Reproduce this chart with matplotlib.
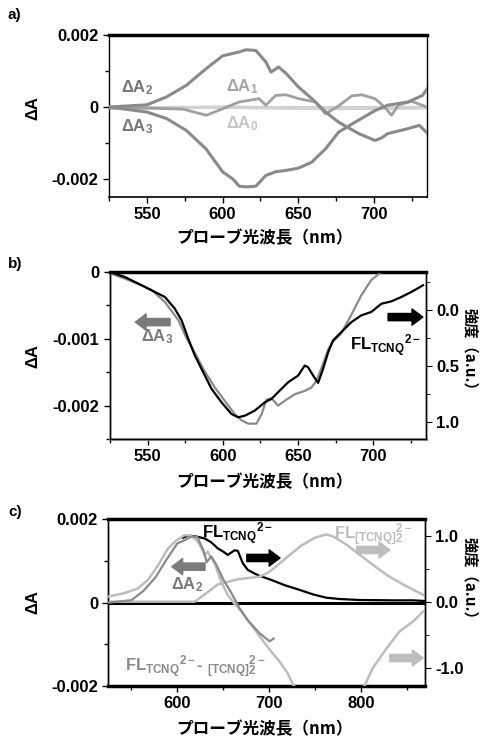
import numpy as np
import matplotlib
matplotlib.use("Agg")
import matplotlib.pyplot as plt
from matplotlib.ticker import MultipleLocator, FormatStrFormatter

plt.rcParams['font.family'] = ['Liberation Sans', 'Noto Sans CJK JP']
plt.rcParams['font.weight'] = 'bold'
plt.rcParams['mathtext.fontset'] = 'custom'
plt.rcParams['mathtext.rm'] = 'Liberation Sans:bold'
plt.rcParams['mathtext.it'] = 'Liberation Sans:bold'
plt.rcParams['mathtext.bf'] = 'Liberation Sans:bold'
plt.rcParams['mathtext.default'] = 'rm'
plt.rcParams['axes.linewidth'] = 1.0

# ---- panel a data ----
wl_a2 = [525, 550, 563, 576, 589, 600, 611, 615.5, 622, 628.6, 632, 637, 642, 650, 659, 668,
         676.6, 690, 700.7, 705, 709, 722.5, 730, 735]
delta_a2 = [0, 0.00006, 0.00028, 0.0006, 0.00106, 0.00142, 0.00153, 0.00159, 0.00157, 0.00125,
            0.00097, 0.00111, 0.00093, 0.00056, 0.00023, -0.00014, -0.00042, -0.00074, -0.00093,
            -0.00086, -0.00074, -0.0006, -0.00051, -0.00072]
wl_a3 = [525, 550, 563, 576, 589, 600, 606.8, 611, 615.5, 622, 628.6, 635, 642, 650, 659, 668,
         676.6, 687.5, 700.7, 709, 722.5, 732, 735]
delta_a3_a = [0, -0.00014, -0.00032, -0.00065, -0.00116, -0.0018, -0.002, -0.0022, -0.00222,
              -0.0022, -0.0019, -0.0018, -0.00176, -0.0017, -0.00153, -0.00116, -0.0007, -0.00042,
              -0.0001, 0.00005, 0.00014, 0.00032, 0.0005]
wl_a1 = [525, 550, 574, 589.3, 600, 611, 624, 628.6, 635, 641.7, 650.4, 661.4, 668, 676.6, 685.4,
         692, 700.7, 707, 711.6, 716, 724.7, 735]
delta_a1 = [-0.00003, -0.00003, -0.00006, -0.00023, -0.00005, 0.00014, 0.00023, 0.00005, 0.00032,
            0.00034, 0.00023, 0.00014, -0.00019, 0.00003, 0.00031, 0.00034, 0.00023, 0.0,
            -0.00023, 0.00005, 0.00016, 0.0]
wl_a0 = [525, 560, 600, 640, 680, 720, 735]
delta_a0 = [-0.00003, -0.00002, 0.0, -0.00003, -0.00004, -0.00003, -0.00002]

# ---- panel b data ----
wl_b3 = [525, 535, 546, 552.7, 561.5, 570.4, 575.9, 581.4, 588, 594.7, 601.3, 608, 612.4, 616.8,
         622.3, 625.7, 629, 632.3, 636.7, 641, 647.8, 654.4, 658.8, 662.2, 665.5, 670, 673.2,
         678.7, 685.4, 692, 698.6, 705.3, 712]
delta_a3_b = [-0.00002, -0.0001, -0.0002, -0.00027, -0.00045, -0.00072, -0.00099, -0.00121,
              -0.00149, -0.00173, -0.00193, -0.00213, -0.00222, -0.00227, -0.00227, -0.00213,
              -0.00191, -0.00189, -0.002, -0.00193, -0.00183, -0.00178, -0.00173, -0.00163,
              -0.00144, -0.00116, -0.00104, -0.00092, -0.00064, -0.00035, -0.00012, 0.0, 0.0002]
wl_fl_b = [525, 535, 546, 554.9, 561.5, 568.1, 572.6, 577, 581.4, 585.8, 592.5, 599.1, 605.7,
           610.2, 614.6, 621.2, 627.9, 632.3, 637.8, 643.4, 650, 654.4, 656.6, 660, 663.3, 666.6,
           670, 673.2, 678.7, 685.4, 692, 698.6, 705.3, 711.9, 718.6, 725.2, 733]
fl_tcnq_b = [-0.335, -0.29, -0.217, -0.157, -0.113, -0.009, 0.095, 0.258, 0.407, 0.525, 0.703,
             0.822, 0.926, 0.955, 0.941, 0.896, 0.822, 0.792, 0.718, 0.644, 0.585, 0.496, 0.51,
             0.585, 0.65, 0.525, 0.377, 0.273, 0.199, 0.11, 0.05, 0.02, -0.053, -0.074, -0.113,
             -0.157, -0.217]

# ---- panel c data ----
wl_fl_c = [606, 612, 620, 629.8, 637, 644, 650, 655, 662.5, 666, 671.5,
           677, 688, 702.5, 717, 733, 748, 762.5, 777, 799, 835, 857, 870]
fl_tcnq_c = [0.97, 1.0, 0.99, 0.96, 0.9, 0.81, 0.76, 0.71, 0.78,
             0.77, 0.58, 0.48, 0.40, 0.33, 0.25, 0.18, 0.11, 0.06, 0.04, 0.025, 0.02, 0.02, 0.01]
wl_dimer = [525, 600, 619, 629.8, 644, 666, 690, 700, 710, 720, 735, 750, 762, 770, 785, 800, 815,
            830, 845, 860, 870]
fl_dimer = [0, 0, 0, 0.11, 0.26, 0.34, 0.38, 0.45, 0.56, 0.68, 0.85, 0.97, 1.02, 0.99, 0.86, 0.70,
            0.54, 0.39, 0.27, 0.16, 0.09]
wl_diff = [524, 542.5, 557, 568, 579, 590, 599, 608, 615, 622.5, 630, 633, 640.7, 648, 655, 660.6,
           670, 680.7, 691.6, 702.5, 711, 720, 727, 740, 765, 790, 804, 813, 828, 842.4, 857, 868]
fl_diff = [0.076, 0.13, 0.2, 0.33, 0.55, 0.81, 0.93, 1.01, 1.0, 0.91, 0.71, 0.76, 0.58, 0.30, 0.10,
           0.0, -0.15, -0.35, -0.56, -0.76, -0.9, -1.08, -1.28, -1.6, -1.8, -1.6, -1.28, -1.01,
           -0.71, -0.45, -0.30, -0.15]

left_ticks_ac = [0.002, 0, -0.002]
left_labels_ac = ['0.002', '0', '-0.002']
left_ticks_b = [0, -0.001, -0.002]
left_labels_b = ['0', '-0.001', '-0.002']

xlabel = 'プローブ光波長（nm）'
rlabel = '強度（a.u.）'

MID = '#8a8a8a'
LIGHT = '#bdbdbd'
PALE = '#d2d2d2'
TS = 12

fig = plt.figure(figsize=(4.85, 7.37), dpi=100)


def px_axes(l, r, t, b):
    W, H = 485.0, 737.0
    return fig.add_axes([l / W, 1 - b / H, (r - l) / W, (b - t) / H])


def style(ax, lw_top=2.5, lw_bot=1.2):
    ax.spines['top'].set_linewidth(lw_top)
    ax.spines['bottom'].set_linewidth(lw_bot)
    ax.tick_params(axis='both', which='major', labelsize=TS, length=4, width=1, direction='out')
    ax.tick_params(axis='both', which='minor', length=3, width=1, direction='out')
    ax.tick_params(axis='x', top=False)
    for lab in ax.get_xticklabels() + ax.get_yticklabels():
        lab.set_fontweight('bold')


def arrow(ax, x0, x1, y, color):
    ax.annotate('', xy=(x1, y), xytext=(x0, y), xycoords='axes fraction',
                arrowprops=dict(arrowstyle='simple,head_length=0.6,head_width=0.9,tail_width=0.4',
                                color=color, mutation_scale=13, shrinkA=0, shrinkB=0))


# ---------------- a ----------------
ax = px_axes(109, 427, 35, 197)
ax.axhline(0, color='black', lw=1.0, zorder=1)
ax.plot(wl_a0, delta_a0, color=PALE, lw=2.5, zorder=2)
ax.plot(wl_a1, delta_a1, color='#a0a0a0', lw=2.0, zorder=3)
ax.plot(wl_a2, delta_a2, color=MID, lw=2.2, zorder=4)
ax.plot(wl_a3, delta_a3_a, color=MID, lw=2.2, zorder=4)
ax.set_xlim(525, 735)
ax.set_ylim(-0.0025, 0.002)
ax.set_yticks(left_ticks_ac)
ax.set_yticklabels(left_labels_ac)
ax.yaxis.set_minor_locator(MultipleLocator(0.001))
ax.set_xticks([550, 600, 650, 700])
ax.xaxis.set_minor_locator(MultipleLocator(25))
ax.tick_params(axis='y', right=False)
style(ax)
ax.text(0.088, 0.673, 'ΔA$_2$', transform=ax.transAxes, color='#777777', fontsize=12, ha='center', va='center')
ax.text(0.088, 0.432, 'ΔA$_3$', transform=ax.transAxes, color='#777777', fontsize=12, ha='center', va='center')
ax.text(0.418, 0.679, 'ΔA$_1$', transform=ax.transAxes, color='#a5a5a5', fontsize=12, ha='center', va='center')
ax.text(0.418, 0.450, 'ΔA$_0$', transform=ax.transAxes, color='#c5c5c5', fontsize=12, ha='center', va='center')
fig.text(33 / 485, 1 - 108 / 737, 'ΔA', rotation=90, fontsize=12, ha='center', va='center')
fig.text(265 / 485, 1 - 238 / 737, xlabel, fontsize=12, ha='center', va='center', family='Noto Sans CJK JP')
fig.text(8 / 485, 1 - 15 / 737, 'a)', fontsize=11, ha='left', va='center')

# ---------------- b ----------------
ax = px_axes(110, 426, 272, 439)
ax.plot(wl_b3, delta_a3_b, color=MID, lw=1.6, zorder=3)
ax.set_xlim(525, 735)
ax.set_ylim(-0.0025, 0)
ax.set_yticks(left_ticks_b)
ax.set_yticklabels(left_labels_b)
ax.yaxis.set_minor_locator(MultipleLocator(0.0005))
ax.set_xticks([550, 600, 650, 700])
ax.xaxis.set_minor_locator(MultipleLocator(25))
style(ax, lw_top=2.5, lw_bot=2.0)
ax.spines['bottom'].set_color('#9a9a9a')
axr = ax.twinx()
axr.plot(wl_fl_b, fl_tcnq_b, color='black', lw=1.6, zorder=2)
axr.set_ylim(1.148, -0.335)
axr.set_yticks([0.0, 0.5, 1.0])
axr.yaxis.set_major_formatter(FormatStrFormatter('%.1f'))
axr.yaxis.set_minor_locator(MultipleLocator(0.25))
axr.tick_params(axis='y', which='major', labelsize=TS, length=4, direction='out')
axr.tick_params(axis='y', which='minor', length=3, direction='out')
for lab in axr.get_yticklabels():
    lab.set_fontweight('bold')
arrow(ax, 0.19, 0.08, 0.70, '#7a7a7a')
ax.text(0.148, 0.61, 'ΔA$_3$', transform=ax.transAxes, color='#7a7a7a', fontsize=12, ha='center', va='center')
arrow(ax, 0.88, 0.99, 0.73, 'black')
ax.text(0.873, 0.56, 'FL$_{TCNQ}$$^{2-}$', transform=ax.transAxes, color='black', fontsize=12, ha='center', va='center')
fig.text(33 / 485, 1 - 356 / 737, 'ΔA', rotation=90, fontsize=12, ha='center', va='center')
fig.text(470 / 485, 1 - 353 / 737, rlabel, rotation=270, fontsize=11, ha='center', va='center', family='Noto Sans CJK JP')
fig.text(265 / 485, 1 - 482 / 737, xlabel, fontsize=12, ha='center', va='center', family='Noto Sans CJK JP')
fig.text(8 / 485, 1 - 264 / 737, 'b)', fontsize=11, ha='left', va='center')

# ---------------- c ----------------
ax = px_axes(108.5, 425, 519.3, 686)
ax.axhline(0, color='black', lw=2.2, zorder=1)
wl_a2_arr = np.array(wl_a2)
keep = wl_a2_arr <= 706
ax.set_xlim(525, 870)
ax.set_ylim(-0.002, 0.002)
ax.set_yticks(left_ticks_ac)
ax.set_yticklabels(left_labels_ac)
ax.yaxis.set_minor_locator(MultipleLocator(0.001))
ax.set_xticks([600, 700, 800])
ax.xaxis.set_minor_locator(MultipleLocator(50))
style(ax, lw_top=2.5, lw_bot=2.5)
axr = ax.twinx()
axr.plot(wl_fl_c, fl_tcnq_c, color='black', lw=1.6, zorder=1)
axr.plot(wl_dimer, fl_dimer, color=LIGHT, lw=1.8, zorder=2)
axr.plot(wl_diff, fl_diff, color=LIGHT, lw=1.8, zorder=3)
# delta A2 belongs to the left axis, drawn on top of the twin's curves
axr.plot(wl_a2_arr[keep], np.array(delta_a2)[keep], color=MID, lw=1.6, zorder=4,
         transform=ax.transData)
axr.set_ylim(-1.28, 1.25)
axr.set_yticks([-1.0, 0.0, 1.0])
axr.yaxis.set_major_formatter(FormatStrFormatter('%.1f'))
axr.yaxis.set_minor_locator(MultipleLocator(0.5))
axr.tick_params(axis='y', which='major', labelsize=TS, length=4, direction='out')
axr.tick_params(axis='y', which='minor', length=3, direction='out')
for lab in axr.get_yticklabels():
    lab.set_fontweight('bold')
arrow(ax, 0.305, 0.20, 0.716, '#7a7a7a')
ax.text(0.247, 0.606, 'ΔA$_2$', transform=ax.transAxes, color='#7a7a7a', fontsize=12, ha='center', va='center')
arrow(ax, 0.437, 0.542, 0.768, 'black')
ax.text(0.409, 0.915, 'FL$_{TCNQ}$$^{2-}$', transform=ax.transAxes, color='black', fontsize=12, ha='center', va='center')
arrow(ax, 0.784, 0.889, 0.816, LIGHT)
ax.text(0.836, 0.905, 'FL$_{[TCNQ]}$$_2^{2-}$', transform=ax.transAxes, color=LIGHT, fontsize=12, ha='center', va='center')
arrow(ax, 0.889, 0.994, 0.168, LIGHT)
ax.text(0.275, 0.116, 'FL$_{TCNQ}$$^{2-}$- $_{[TCNQ]}$$_2^{2-}$', transform=ax.transAxes, color=MID, fontsize=12, ha='center', va='center')
fig.text(33 / 485, 1 - 602 / 737, 'ΔA', rotation=90, fontsize=12, ha='center', va='center')
fig.text(470 / 485, 1 - 582 / 737, rlabel, rotation=270, fontsize=11, ha='center', va='center', family='Noto Sans CJK JP')
fig.text(265 / 485, 1 - 729 / 737, xlabel, fontsize=12, ha='center', va='center', family='Noto Sans CJK JP')
fig.text(8 / 485, 1 - 512 / 737, 'c)', fontsize=11, ha='left', va='center')

fig.savefig('out.png', dpi=100)
